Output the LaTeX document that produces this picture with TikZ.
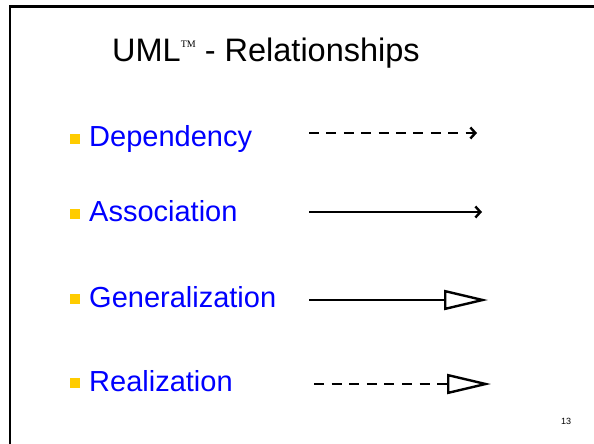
\documentclass[tikz,border=0pt]{standalone}
\usepackage{fontspec}
\setmainfont{Liberation Sans}
\newfontfamily\tmfont{Liberation Serif}
\usepackage{tikz}
\usetikzlibrary{arrows.meta}
\definecolor{itemblue}{RGB}{0,0,255}
\definecolor{bulletyellow}{RGB}{255,204,0}
\tikzstyle{title} = [inner sep=0pt, anchor=base,
    font=\fontsize{32.5}{32.5}\selectfont]
\tikzstyle{bullet} = [rectangle, fill=bulletyellow, draw=none,
    minimum size=10pt, inner sep=0pt, node distance=80pt]
\tikzstyle{item} = [text=itemblue, inner sep=0pt, anchor=west,
    text height=22pt, text depth=6pt, font=\fontsize{29}{29}\selectfont]
\tikzstyle{line} = [draw, line width=2.4pt]
\tikzstyle{depline} = [line, dash pattern=on 10pt off 7.4pt,
    -{Straight Barb[length=5pt, width=11pt]}]
\tikzstyle{assocline} = [line, -{Straight Barb[length=5pt, width=11pt]}]
\tikzstyle{genline} = [line, -{Triangle[open, length=44pt, width=20pt]}]
\tikzstyle{realline} = [line, dash pattern=on 10pt off 7.6pt,
    -{Triangle[open, length=44pt, width=20pt]}]

\begin{document}
\begin{tikzpicture}[x=1pt, y=-1pt]
    \useasboundingbox (0,0) rectangle (594,444);
    % Frame
    \begin{scope}
        \clip (0,0) rectangle (594,444);
        \draw [line width=2.8pt] (10,6.5) rectangle (620,470);
    \end{scope}
    % Place nodes
    \node [title] (title) at (266,62) {UML\raisebox{14pt}{\fontsize{10}{10}\tmfont TM} - Relationships};
    \node [bullet] (b1) at (75,138.5) {};
    \node [bullet, below of=b1, node distance=75pt] (b2) {};
    \node [bullet, below of=b2, node distance=85.5pt] (b3) {};
    \node [bullet, below of=b3, node distance=84pt] (b4) {};
    \node [item, right of=b1, node distance=14pt, anchor=west] (dep) {Dependency};
    \node [item, right of=b2, node distance=14pt, anchor=west] (assoc) {Association};
    \node [item, right of=b3, node distance=14pt, anchor=west] (gen) {Generalization};
    \node [item, right of=b4, node distance=14pt, anchor=west] (real) {Realization};
    \node [font=\fontsize{9}{9}\selectfont, inner sep=0pt] (pagenum) at (566,421) {13};
    % Arrow ends
    \coordinate (dep-a) at (309,133);
    \coordinate (dep-b) at (477,133);
    \coordinate (assoc-a) at (309,212);
    \coordinate (assoc-b) at (482,212);
    \coordinate (gen-a) at (309,300);
    \coordinate (gen-b) at (488,300);
    \coordinate (real-a) at (314,384);
    \coordinate (real-b) at (491,384);
    % Draw edges
    \path [depline] (dep-a) -- (dep-b);
    \path [assocline] (assoc-a) -- (assoc-b);
    \path [genline] (gen-a) -- (gen-b);
    \path [realline] (real-a) -- (real-b);
\end{tikzpicture}
\end{document}
